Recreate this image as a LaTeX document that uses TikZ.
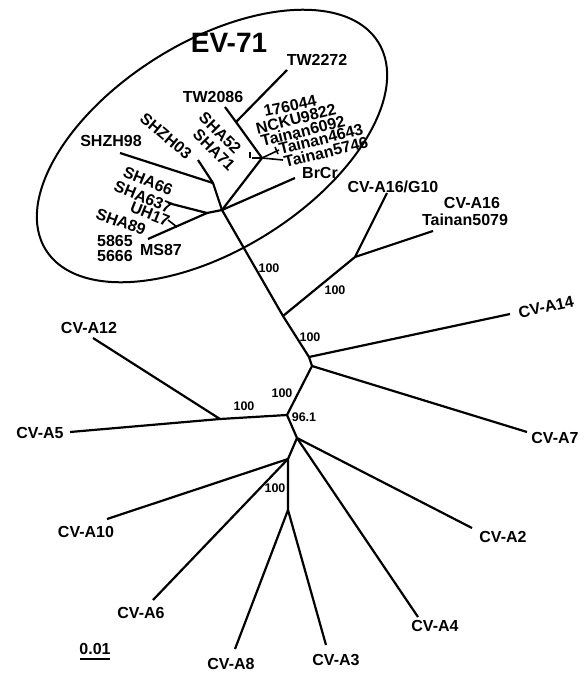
\documentclass[tikz,border=0pt]{standalone}
\usepackage{fontspec}
\setmainfont{Liberation Sans}
\begin{document}
\begin{tikzpicture}[x=1pt,y=-1pt,
  br/.style={line width=2.2pt, line join=round},
  lbl/.style={font=\bfseries\fontsize{16}{16}\selectfont, inner sep=0pt},
  bs/.style={font=\bfseries\fontsize{12.5}{12.5}\selectfont, inner sep=0pt},
  ttl/.style={font=\bfseries\fontsize{28}{28}\selectfont, inner sep=0pt}]
\useasboundingbox (0,0) rectangle (588,675);
\fill[white] (0,0) rectangle (588,675);

% ellipse around EV-71
\draw[line width=2pt, rotate around={32:(212,146)}] (212,146) ellipse [x radius=196pt, y radius=104pt];

% backbone coordinates
\coordinate (R) at (222,210);
\coordinate (N1) at (283,316);
\coordinate (N2) at (309,357);
\coordinate (N3) at (312,366);
\coordinate (N4) at (287,415);
\coordinate (N5) at (297,438);
\coordinate (N6) at (288,459);
\coordinate (N7) at (288,510);
\coordinate (NA) at (220,419);
\coordinate (NB) at (355,257);
% tips
\coordinate (G10t) at (387,193);
\coordinate (T5079t) at (433,231);
\coordinate (A14t) at (510,314);
\coordinate (A7t) at (527,432);
\coordinate (A12t) at (93,338);
\coordinate (A5t) at (70,432);
\coordinate (A2t) at (472,528);
\coordinate (A4t) at (418,617);
\coordinate (A10t) at (107,519);
\coordinate (A6t) at (153,600);
\coordinate (A8t) at (235,649);
\coordinate (A3t) at (326,645);
% EV-71 cluster
\coordinate (T) at (262,158);
\coordinate (TWj) at (236,122);
\coordinate (TW2086t) at (225,107);
\coordinate (TW2272t) at (287,70);
\coordinate (SZ) at (213,183);
\coordinate (SZ98t) at (120,153);
\coordinate (SZ03t) at (198,160);
\coordinate (BrCrt) at (295,178);
\coordinate (SL) at (207,213);
\coordinate (SHA66t) at (168,203);
\coordinate (MS87t) at (148,239);
\coordinate (U1) at (168,220);
\coordinate (U2) at (177,227);
\coordinate (Th1) at (252,158);
\coordinate (Th2) at (283,160);
\coordinate (Tk1) at (250,152);
\coordinate (Tk2) at (250,158);
\coordinate (T46) at (279,150);
\coordinate (Tq1) at (275,147);
\coordinate (Tq2) at (278,154);
\coordinate (sb1) at (80,659);
\coordinate (sb2) at (110,659);

% branches
\draw[br] (R) -- (N1) -- (N2) -- (N3) -- (N4) -- (N5) -- (N6) -- (N7);
\draw[br] (N1) -- (NB) -- (G10t);
\draw[br] (NB) -- (T5079t);
\draw[br] (N2) -- (A14t);
\draw[br] (N3) -- (A7t);
\draw[br] (N4) -- (NA) -- (A5t);
\draw[br] (NA) -- (A12t);
\draw[br] (N5) -- (A2t);
\draw[br] (N5) -- (A4t);
\draw[br] (N6) -- (A10t);
\draw[br] (N6) -- (A6t);
\draw[br] (N7) -- (A8t);
\draw[br] (N7) -- (A3t);
\draw[br] (R) -- (T) -- (TWj) -- (TW2086t);
\draw[br] (TWj) -- (TW2272t);
\draw[br] (R) -- (SZ) -- (SZ98t);
\draw[br] (SZ) -- (SZ03t);
\draw[br] (R) -- (BrCrt);
\draw[br] (R) -- (SL) -- (SHA66t);
\draw[br] (SL) -- (MS87t);
\draw[line width=1.6pt] (U1) -- (U2);
\draw[line width=1.6pt] (Th1) -- (T) -- (Th2);
\draw[line width=1.6pt] (Tk1) -- (Tk2);
\draw[line width=1.6pt] (T) -- (T46);
\draw[line width=1.6pt] (Tq1) -- (Tq2);
\draw[line width=1.5pt] (sb1) -- (sb2);

% labels
\node[ttl] (ev) at (229,43) {EV-71};
\node[lbl] (l2272) at (317,60) {TW2272};
\node[lbl] (l2086) at (213,97) {TW2086};
\node[lbl, rotate=12] (l176) at (290,106) {176044};
\node[lbl, rotate=14] (lncku) at (296,119) {NCKU9822};
\node[lbl, rotate=14] (l6092) at (303,131) {Tainan6092};
\node[lbl, rotate=14] (l4643) at (321,139) {Tainan4643};
\node[lbl, rotate=14] (l5746) at (326,152) {Tainan5746};
\node[lbl, rotate=-45] (l52) at (220,133) {SHA52};
\node[lbl, rotate=-45] (l71) at (214,150) {SHA71};
\node[lbl, rotate=-40] (lz03) at (166,136) {SHZH03};
\node[lbl] (lz98) at (111,141) {SHZH98};
\node[lbl, rotate=-22] (l66) at (148,181) {SHA66};
\node[lbl, rotate=-22] (l637) at (143,197) {SHA637};
\node[lbl, rotate=-22] (luh) at (150,214) {UH17};
\node[lbl, rotate=-20] (l89) at (121,222) {SHA89};
\node[lbl] (l5865) at (115,241) {5865};
\node[lbl] (l5666) at (115,256) {5666};
\node[lbl] (lms) at (161,250) {MS87};
\node[lbl] (lbr) at (320,173) {BrCr};
\node[lbl] (lg10) at (393,187) {CV-A16/G10};
\node[lbl] (l16) at (472,203) {CV-A16};
\node[lbl] (l5079) at (465,220) {Tainan5079};
\node[lbl, rotate=12] (l14) at (546,307) {CV-A14};
\node[lbl] (l7) at (555,438) {CV-A7};
\node[lbl] (l12) at (89,328) {CV-A12};
\node[lbl] (l5) at (40,433) {CV-A5};
\node[lbl] (lA2) at (503,537) {CV-A2};
\node[lbl] (lA4) at (435,626) {CV-A4};
\node[lbl] (l10) at (86,532) {CV-A10};
\node[lbl] (l6) at (141,613) {CV-A6};
\node[lbl] (l8) at (231,664) {CV-A8};
\node[lbl] (l3) at (336,660) {CV-A3};
\node[lbl] (lsc) at (95,649) {0.01};

% bootstrap values
\node[bs] (b1) at (269,268) {100};
\node[bs] (b2) at (335,290) {100};
\node[bs] (b3) at (310,337) {100};
\node[bs] (b4) at (282,393) {100};
\node[bs] (b5) at (244,406) {100};
\node[bs] (b6) at (304,417) {96.1};
\node[bs] (b7) at (275,488) {100};
\end{tikzpicture}
\end{document}
